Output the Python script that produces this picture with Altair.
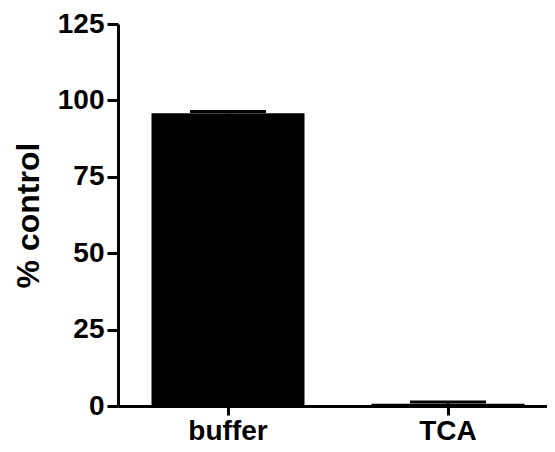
import altair as alt
import pandas as pd

categories = ["buffer", "TCA"]
means = [95.8, 0.7]
upper = [96.4, 1.3]
y_ticks = [0, 25, 50, 75, 100, 125]

df = pd.DataFrame({"group": categories, "mean": means, "upper": upper})

FONT = "Liberation Sans"

x_enc = alt.X(
    "group:N",
    sort=categories,
    scale=alt.Scale(range=[0, 440], paddingInner=0, paddingOuter=0),
    axis=alt.Axis(
        title=None, labelAngle=0, labelFontSize=28, labelPadding=2,
        tickSize=9, tickWidth=3, domainWidth=3,
    ),
)
y_scale = alt.Scale(domain=[0, 125], nice=False)

bars = alt.Chart(df).mark_bar(color="black", width=153).encode(
    x=x_enc,
    y=alt.Y(
        "mean:Q",
        scale=y_scale,
        axis=alt.Axis(
            title="% control", values=y_ticks, titleFontSize=32,
            titlePadding=12, labelFontSize=28, labelPadding=3,
            tickSize=11, tickWidth=3, domainWidth=3, grid=False,
        ),
    ),
)

stems = alt.Chart(df).mark_rule(color="black", strokeWidth=3).encode(
    x=alt.X("group:N", sort=categories),
    y=alt.Y("mean:Q"),
    y2="upper:Q",
)

caps = alt.Chart(df).mark_tick(color="black", opacity=1, thickness=3, size=76).encode(
    x=alt.X("group:N", sort=categories),
    y=alt.Y("upper:Q"),
)

chart = (
    alt.layer(bars, stems, caps)
    .properties(
        width=429,
        height=382,
        autosize=alt.AutoSizeParams(type="none"),
        padding={"left": 110, "top": 16, "right": 0, "bottom": 38},
    )
    .configure_view(stroke=None)
    .configure_axis(
        labelFont=FONT, titleFont=FONT, labelFontWeight="bold",
        titleFontWeight="bold", labelColor="black", titleColor="black",
        domainColor="black", tickColor="black",
    )
)

chart.save("out.html", embed_options={"renderer": "svg", "actions": False})
